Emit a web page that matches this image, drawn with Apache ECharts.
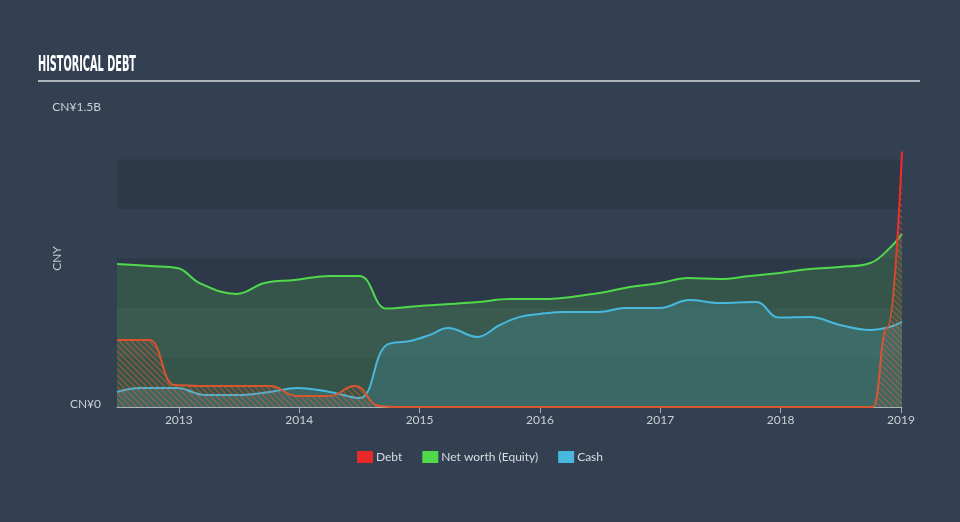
<!DOCTYPE html>
<html>
<head>
<meta charset="utf-8">
<script src="https://cdn.jsdelivr.net/npm/echarts@6/dist/echarts.min.js"></script>
<style>
  html, body { margin: 0; padding: 0; background: #334051; }
  #chart { width: 960px; height: 522px; }
</style>
</head>
<body>
<div id="chart"></div>
<script>
// ---- data (values in CN¥ billions) ----
var yearTicks = [2013, 2014, 2015, 2016, 2017, 2018, 2019];
var yTickValues = [0, 1.5];
var yTickLabels = ['CN¥0', 'CN¥1.5B'];

var netWorthDates = ['2012-06-27','2012-10-04','2012-12-28','2013-03-05','2013-06-25','2013-09-18','2013-12-18','2014-04-04','2014-07-03','2014-09-23','2015-01-01','2015-06-30','2015-09-30','2016-01-01','2016-06-30','2016-09-30','2016-12-31','2017-03-25','2017-06-30','2017-09-30','2017-12-31','2018-03-31','2018-06-30','2018-09-30','2018-11-28','2019-01-04'];
var netWorthValues = [0.722,0.712,0.702,0.626,0.571,0.626,0.641,0.662,0.662,0.497,0.510,0.530,0.545,0.545,0.576,0.606,0.626,0.651,0.646,0.662,0.677,0.697,0.707,0.727,0.803,0.874];

var cashDates = ['2012-06-27','2012-09-04','2012-12-28','2013-03-20','2013-07-04','2013-10-03','2013-12-27','2014-04-04','2014-07-03','2014-09-23','2014-12-02','2015-02-01','2015-03-28','2015-06-26','2015-09-01','2015-11-01','2016-01-01','2016-03-17','2016-06-30','2016-09-15','2016-12-31','2017-03-30','2017-06-30','2017-10-20','2017-12-25','2018-03-31','2018-06-30','2018-09-28','2018-11-28','2019-01-04'];
var cashValues = [0.076,0.096,0.096,0.061,0.061,0.076,0.096,0.076,0.045,0.313,0.333,0.364,0.399,0.354,0.414,0.455,0.470,0.480,0.480,0.500,0.500,0.540,0.525,0.530,0.452,0.455,0.414,0.389,0.404,0.430];

var debtDates = ['2012-06-27','2012-10-04','2012-12-18','2013-03-05','2013-10-03','2013-12-27','2014-04-04','2014-06-19','2014-09-02','2014-10-15','2018-10-08','2018-11-20','2019-01-04'];
var debtValues = [0.338,0.338,0.111,0.106,0.106,0.056,0.056,0.106,0.005,0,0,0.40,1.29];

var xMinDate = '2012-06-27';
var xMaxDate = '2019-01-04';

// ---- helpers ----
function toYear(s) {
  var d = new Date(s + 'T00:00:00Z');
  var y = d.getUTCFullYear();
  var start = Date.UTC(y, 0, 1), end = Date.UTC(y + 1, 0, 1);
  return y + (d.getTime() - start) / (end - start);
}
function pairs(dates, vals) {
  return dates.map(function (d, i) { return [toYear(d), vals[i]]; });
}

// hatch pattern for debt area
var hatch = document.createElement('canvas');
hatch.width = 6; hatch.height = 6;
(function () {
  var c = hatch.getContext('2d');
  c.strokeStyle = 'rgba(226,92,52,0.75)';
  c.lineWidth = 1.3;
  c.beginPath();
  c.moveTo(0, 0); c.lineTo(6, 6);
  c.moveTo(-3, 3); c.lineTo(3, 9);
  c.moveTo(3, -3); c.lineTo(9, 3);
  c.stroke();
})();

// title width fit
var titleText = 'HISTORICAL DEBT';
var titleFamily = '"Liberation Sans Narrow", "DejaVu Sans Condensed", sans-serif';
var mc = document.createElement('canvas').getContext('2d');
mc.font = 'bold 22px ' + titleFamily;
var titleScale = 98 / mc.measureText(titleText).width;

var chart = echarts.init(document.getElementById('chart'), null, { renderer: 'canvas' });
var FONT = 'Lato, "Open Sans", sans-serif';

chart.setOption({
  animation: false,
  backgroundColor: '#334051',
  graphic: [
    {
      type: 'text', left: 38, top: 54, scaleX: titleScale,
      style: { text: titleText, fill: '#ffffff', fontFamily: titleFamily, fontWeight: 'bold', fontSize: 22 }
    },
    {
      type: 'line', shape: { x1: 38, y1: 81, x2: 920, y2: 81 },
      style: { stroke: '#aeb5bd', lineWidth: 2 }
    }
  ],
  legend: {
    bottom: 54, left: 'center',
    itemWidth: 16, itemHeight: 12, itemGap: 20, icon: 'rect',
    textStyle: { color: '#d8dce0', fontSize: 12, fontFamily: FONT, padding: [0, 0, 0, -2] },
    data: ['Debt', 'Net worth (Equity)', 'Cash']
  },
  grid: { left: 117, right: 58, top: 110, bottom: 115 },
  xAxis: {
    type: 'value',
    min: toYear(xMinDate), max: toYear(xMaxDate),
    splitLine: { show: false },
    axisLine: { lineStyle: { color: '#aab2bc', width: 1 } },
    axisTick: { show: true, customValues: yearTicks, length: 6, lineStyle: { color: '#aab2bc' } },
    axisLabel: { customValues: yearTicks, color: '#c9ced4', fontSize: 12, fontFamily: FONT, margin: 7, formatter: function (v) { return String(Math.round(v)); } }
  },
  yAxis: {
    type: 'value', min: 0, max: 1.5, interval: 0.25,
    name: 'CNY', nameLocation: 'middle', nameRotate: 90, nameGap: 54, nameMoveOverlap: false,
    nameTextStyle: { color: '#c4c9cf', fontSize: 12, fontFamily: FONT },
    axisLine: { show: false }, axisTick: { show: false },
    splitLine: { show: false },
    splitArea: { show: true, areaStyle: { color: ['rgba(0,0,0,0.11)', 'rgba(0,0,0,0)'] } },
    axisLabel: {
      customValues: yTickValues, margin: 16,
      formatter: function (v) { return '{a|' + yTickLabels[yTickValues.indexOf(v)] + '}'; },
      rich: { a: { color: '#c9ced4', fontSize: 12, fontFamily: FONT, padding: [0, 0, 5, 0] } }
    }
  },
  series: [
    {
      name: 'Net worth (Equity)', type: 'line', data: pairs(netWorthDates, netWorthValues),
      smooth: 0.4, showSymbol: false, z: 2,
      itemStyle: { color: '#4fd94b' },
      lineStyle: { color: '#4fd94b', width: 2 },
      areaStyle: { color: 'rgba(70,138,78,0.5)' }
    },
    {
      name: 'Cash', type: 'line', data: pairs(cashDates, cashValues),
      smooth: 0.4, showSymbol: false, z: 3,
      itemStyle: { color: '#48b8dc' },
      lineStyle: { color: '#48b8dc', width: 2 },
      areaStyle: { color: 'rgba(66,132,138,0.6)' }
    },
    {
      name: 'Debt', type: 'line', data: pairs(debtDates, debtValues),
      smooth: 0.5, smoothMonotone: 'x', showSymbol: false, z: 4,
      itemStyle: { color: '#e8292a' },
      lineStyle: { width: 2, color: {
        type: 'linear', x: 0, y: 0, x2: 0, y2: 1,
        colorStops: [{ offset: 0, color: '#ff2424' }, { offset: 0.35, color: '#e8342a' }, { offset: 0.6, color: '#d9502e' }, { offset: 1, color: '#d6582f' }]
      } },
      areaStyle: { color: { image: hatch, repeat: 'repeat' } }
    }
  ]
});
</script>
</body>
</html>
